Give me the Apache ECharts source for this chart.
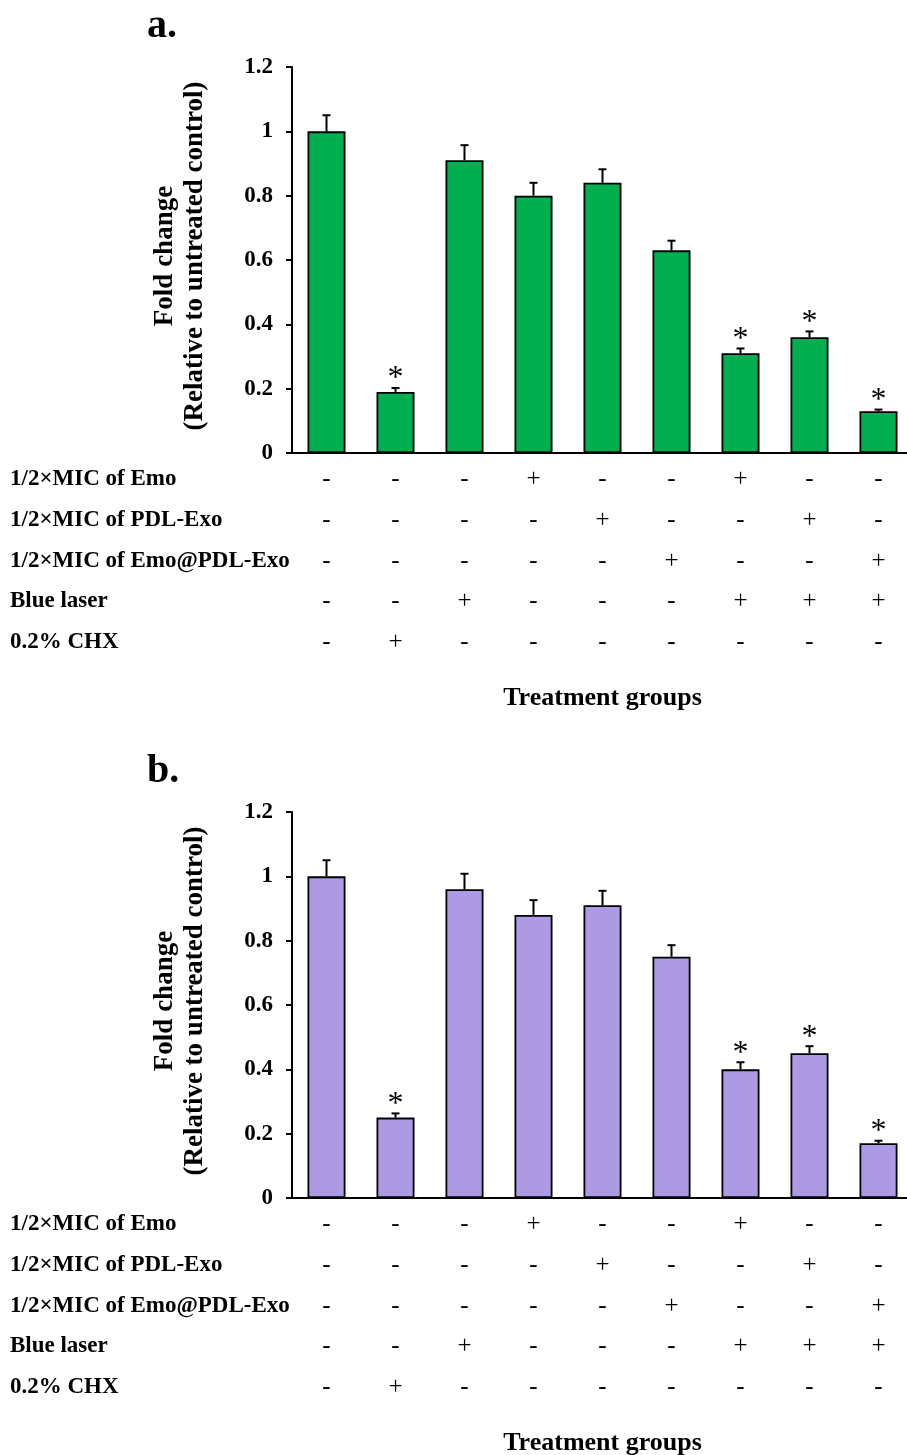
<!DOCTYPE html>
<html>
<head>
<meta charset="utf-8">
<script src="https://cdn.jsdelivr.net/npm/echarts@6/dist/echarts.min.js"></script>
<style>
html,body{margin:0;padding:0;background:#fff;}
#chart{width:907px;height:1455px;}
</style>
</head>
<body>
<div id="chart"></div>
<script>
// ---- data ----
const categories = ['G1','G2','G3','G4','G5','G6','G7','G8','G9'];
const rowLabels = ['1/2×MIC of Emo','1/2×MIC of PDL-Exo','1/2×MIC of Emo@PDL-Exo','Blue laser','0.2% CHX'];
const rowEmo    = ['-','-','-','+','-','-','+','-','-'];
const rowPdl    = ['-','-','-','-','+','-','-','+','-'];
const rowEmoPdl = ['-','-','-','-','-','+','-','-','+'];
const rowLaser  = ['-','-','+','-','-','-','+','+','+'];
const rowChx    = ['-','+','-','-','-','-','-','-','-'];
const valuesA = [1.00,0.19,0.91,0.80,0.84,0.63,0.31,0.36,0.13];
const errorsA = [0.05,0.012,0.047,0.04,0.042,0.03,0.015,0.018,0.005];
const valuesB = [1.00,0.25,0.96,0.88,0.91,0.75,0.40,0.45,0.17];
const errorsB = [0.05,0.013,0.048,0.046,0.045,0.036,0.022,0.022,0.008];
const significant = [0,1,0,0,0,0,1,1,1];
const panelLetters = ['a.','b.'];
const yMin = 0, yMax = 1.2, yInterval = 0.2;

// ---- layout ----
const rows = [rowEmo,rowPdl,rowEmoPdl,rowLaser,rowChx];
const FONT = '"Liberation Serif","Times New Roman",serif';
const panels = [
  {top:67, values:valuesA, errors:errorsA, color:'#00B050', letterTop:7},
  {top:812, values:valuesB, errors:errorsB, color:'#AD9AE4', letterTop:752}
];
const gridH = 386;
const rowOffsets = [26,67,108,148,189];

const grids=[], xAxes=[], yAxes=[], series=[], graphics=[];
panels.forEach((p,pi)=>{
  grids.push({left:292, width:621, top:p.top, height:gridH, outerBoundsMode:'none', containLabel:false});
  const base = xAxes.length;
  xAxes.push({
    type:'category', gridIndex:pi, data:categories,
    axisLine:{show:true, lineStyle:{color:'#000', width:2}},
    axisTick:{show:false}, axisLabel:{show:false}, splitLine:{show:false}
  });
  rows.forEach((r,ri)=>{
    xAxes.push({
      type:'category', gridIndex:pi, data:categories, position:'bottom', offset:rowOffsets[ri],
      axisLine:{show:false}, axisTick:{show:false}, splitLine:{show:false},
      axisLabel:{show:true, margin:0, verticalAlign:'middle', interval:0,
        fontFamily:FONT, fontSize:25, color:'#000',
        formatter:(v,i)=>r[i]},
      name: ri===rows.length-1 ? 'Treatment groups' : '',
      nameLocation:'middle', nameGap:56,
      nameTextStyle:{fontFamily:FONT, fontWeight:'bold', fontSize:26, color:'#000', verticalAlign:'middle'}
    });
  });
  yAxes.push({
    type:'value', gridIndex:pi, min:yMin, max:yMax, interval:yInterval,
    axisLine:{show:true, lineStyle:{color:'#000', width:2}},
    axisTick:{show:true, inside:false, length:6, lineStyle:{color:'#000', width:2}},
    splitLine:{show:false},
    axisLabel:{fontFamily:FONT, fontWeight:'bold', fontSize:23, color:'#000', margin:19},
    name:'Fold change\n(Relative to untreated control)',
    nameLocation:'middle', nameGap:82, nameRotate:90,
    nameTextStyle:{fontFamily:FONT, fontWeight:'bold', fontSize:27, lineHeight:30, color:'#000', padding:[0,0,0,8]}
  });
  series.push({
    type:'bar', xAxisIndex:base, yAxisIndex:pi, data:p.values, barWidth:38,
    itemStyle:{color:p.color, borderColor:'#000', borderWidth:1.8},
    silent:true, animation:false
  });
  series.push({
    type:'custom', xAxisIndex:base, yAxisIndex:pi,
    data:categories.map((c,i)=>[i,p.values[i],p.errors[i],significant[i]]),
    encode:{x:0,y:1},
    renderItem:(params,api)=>{
      const i=api.value(0), v=api.value(1), e=api.value(2), s=api.value(3);
      const b=api.coord([i,v]), t=api.coord([i,v+e]);
      const ch=[
        {type:'line', shape:{x1:b[0],y1:b[1],x2:t[0],y2:t[1]}, style:{stroke:'#000',lineWidth:2}},
        {type:'line', shape:{x1:t[0]-4,y1:t[1],x2:t[0]+4,y2:t[1]}, style:{stroke:'#000',lineWidth:2}}
      ];
      if(s){
        ch.push({type:'text', style:{text:'*', x:t[0], y:t[1]+7, textAlign:'center', textVerticalAlign:'bottom',
          font:'32px '+FONT, fill:'#000'}});
      }
      return {type:'group', children:ch};
    },
    silent:true, animation:false, z:3
  });
  graphics.push({type:'text', x:147, y:p.letterTop, style:{text:panelLetters[pi], font:'bold 40px '+FONT, fill:'#000', textVerticalAlign:'top'}});
  rowLabels.forEach((lab,ri)=>{
    graphics.push({type:'text', x:10, y:p.top+gridH+rowOffsets[ri],
      style:{text:lab, font:'bold 23px '+FONT, fill:'#000', textVerticalAlign:'middle'}});
  });
});

const chart = echarts.init(document.getElementById('chart'), null, {renderer:'canvas'});
chart.setOption({
  backgroundColor:'#fff', animation:false,
  grid:grids, xAxis:xAxes, yAxis:yAxes, series:series, graphic:graphics
});
</script>
</body>
</html>
